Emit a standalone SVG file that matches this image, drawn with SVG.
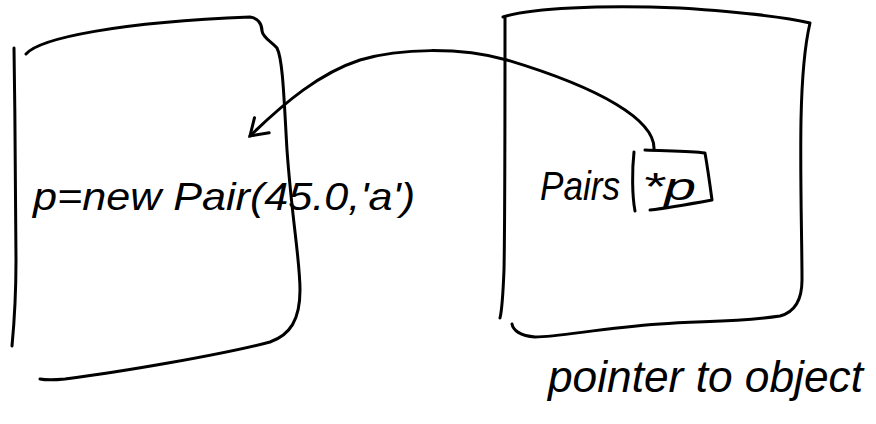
<svg xmlns="http://www.w3.org/2000/svg" width="876" height="424" viewBox="0 0 876 424">
  <style>
    .ink { fill: none; stroke: #000; stroke-width: 3; stroke-linecap: round; stroke-linejoin: round; }
    .hand { font-family: "Liberation Sans", "DejaVu Sans", sans-serif; font-style: italic; fill: #000; }
  </style>
  <defs>
    <marker id="openHead" markerUnits="userSpaceOnUse" markerWidth="30" markerHeight="30" refX="0" refY="0" viewBox="-20 -15 30 30" orient="auto">
      <path d="M-16,-11 L0,0 L-16,10" fill="none" stroke="#000" stroke-width="3" stroke-linecap="round"/>
    </marker>
  </defs>
  <rect width="876" height="424" fill="#fff"/>

  <!-- left frame: the object on the heap -->
  <g id="heap-object">
    <path class="ink" d="M14,48 C15,120 16,200 16,260 C16,300 14,325 12,346"/>
    <path class="ink" d="M26,54 C40,38 120,22 250,17 C258,18 262,24 262,31 C263,38 272,42 277,48 C283,60 284,100 287,150 C292,220 300,260 300,290 C300,320 290,335 270,342 C220,355 120,372 65,379 C55,380 45,380 40,379"/>
    <text class="hand" x="33" y="210" font-size="38" textLength="382" lengthAdjust="spacingAndGlyphs">p=new Pair(45.0,'a')</text>
  </g>

  <!-- right frame: the pointer variable -->
  <g id="pointer-var">
    <path class="ink" d="M505,18 C505,100 505,220 504,270 C503,295 502,310 500,318"/>
    <path class="ink" d="M503,17 C530,8 600,5 680,8 C740,12 790,18 810,23 C806,40 802,70 801,120 C800,180 802,240 802,280 C802,300 795,312 780,316 C740,322 700,321 660,324 C600,328 560,337 535,337 C520,336 513,330 512,324"/>
    <text class="hand" x="540" y="200" font-size="40" textLength="80" lengthAdjust="spacingAndGlyphs">Pairs</text>
  </g>

  <!-- small cell holding *p -->
  <g id="pointer-cell">
    <path class="ink" d="M634,152 C632,170 632,195 635,211"/>
    <path class="ink" d="M645,150 C665,151 690,151 705,153 C708,170 710,185 712,200 C690,204 668,208 650,210"/>
    <text class="hand" x="642" y="200" font-size="38" textLength="54" lengthAdjust="spacingAndGlyphs">*p</text>
  </g>

  <!-- caption -->
  <g id="caption">
    <text class="hand" x="548" y="392" font-size="44" textLength="315" lengthAdjust="spacingAndGlyphs">pointer to object</text>
  </g>

  <g id="connectors">
    <path class="ink" marker-end="url(#openHead)" d="M654,150 C656,120 600,88 507,60 C460,47 400,48 360,60 C320,73 285,102 250,136"/>
  </g>
</svg>
